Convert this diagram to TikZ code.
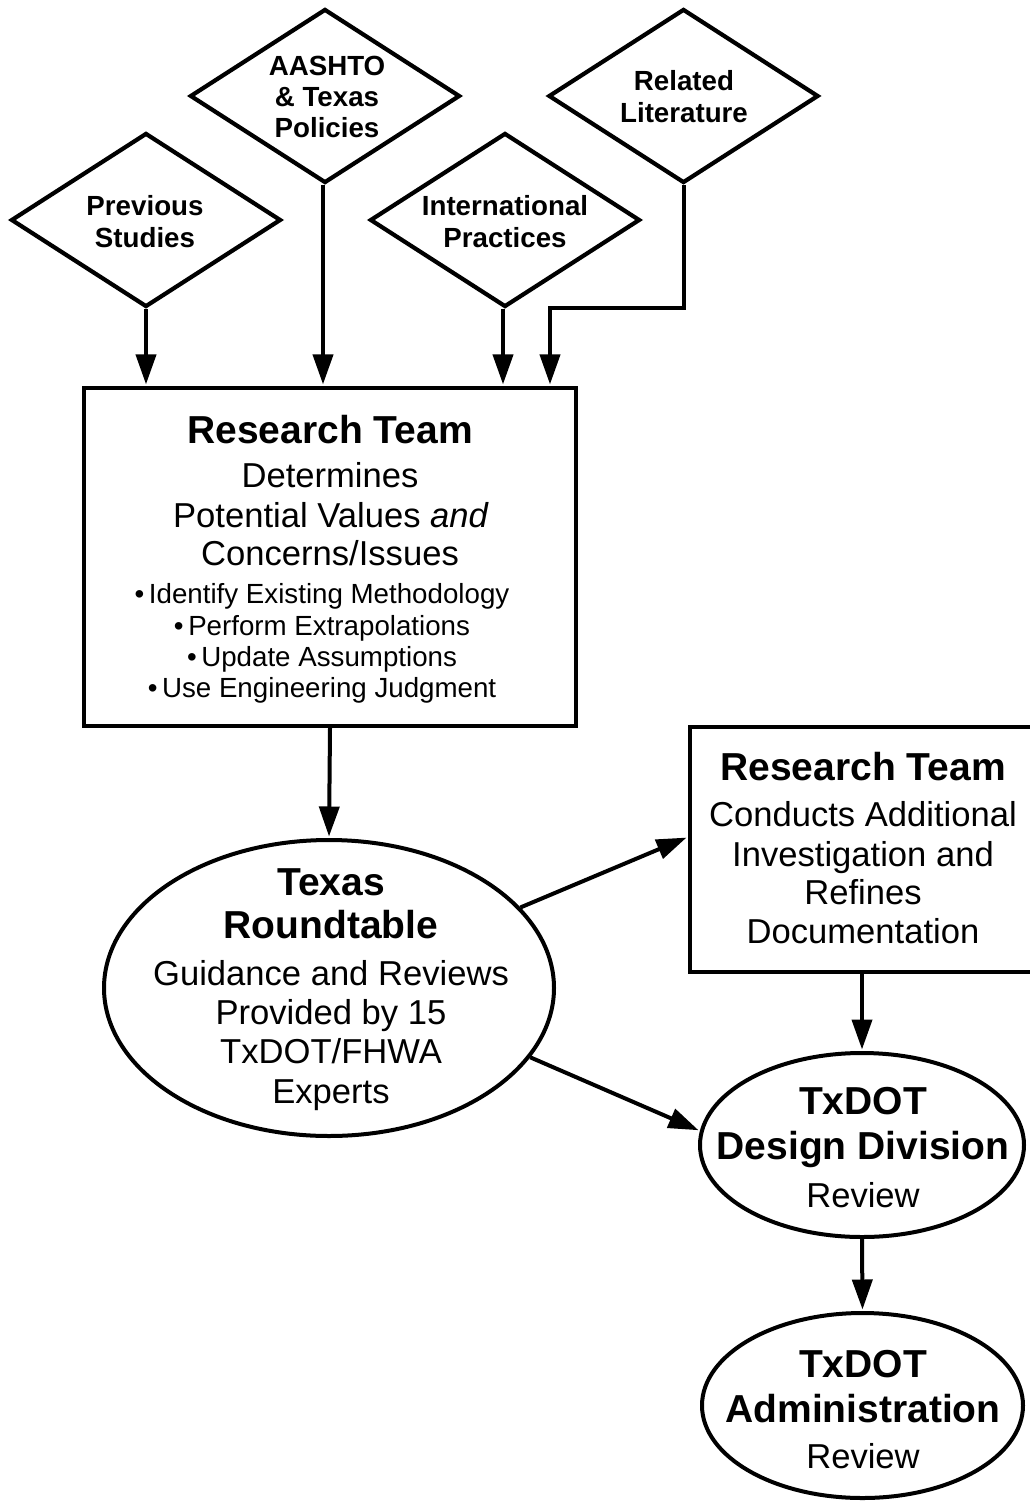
\documentclass[tikz,border=0pt]{standalone}
\usepackage{fontspec}
\setmainfont{Liberation Sans}
\usetikzlibrary{shapes.geometric,arrows.meta,calc}
\newcommand\ftitle{\fontsize{39}{44}\selectfont\bfseries}
\newcommand\fbody{\fontsize{34.6}{39}\selectfont}
\newcommand\fbul{\fontsize{27.7}{31}\selectfont}
\newcommand\fdia{\fontsize{27.7}{32}\selectfont\bfseries}
\begin{document}
\begin{tikzpicture}[x=1pt,y=-1pt,
  dia/.style={draw, shape=diamond, aspect=1.55, minimum width=270pt, minimum height=174pt, inner sep=0pt, line width=4.2pt},
  boxnode/.style={draw, rectangle, inner sep=0pt, line width=4.2pt},
  ellnode/.style={draw, ellipse, inner sep=0pt, line width=4pt},
  lbl/.style={inner sep=0pt, anchor=base},
  arr/.style={line width=4pt, -{Triangle[length=30pt,width=20pt]}, shorten >=1.5pt}]
\useasboundingbox (0,0) rectangle (1029,1501);
\fill[white] (0,0) rectangle (1029,1501);

% diamonds
\node[dia] (prev) at (146,220) {};
\node[dia] (aash) at (325,96) {};
\node[dia] (intl) at (505,220) {};
\node[dia] (rel) at (683.5,96) {};

\node[lbl,font=\fdia] (prevA) at (145,215) {Previous};
\node[lbl,font=\fdia] (prevB) at (145,247) {Studies};
\node[lbl,font=\fdia] (aashA) at (327,76) {AASHTO};
\node[lbl,font=\fdia] (aashB) at (327,107) {\& Texas};
\node[lbl,font=\fdia] (aashC) at (327,138) {Policies};
\node[lbl,font=\fdia] (intlA) at (505,215) {International};
\node[lbl,font=\fdia] (intlB) at (505,247) {Practices};
\node[lbl,font=\fdia] (relA) at (684,91) {Related};
\node[lbl,font=\fdia] (relB) at (684,123) {Literature};

% box 1
\node[boxnode, minimum width=492pt, minimum height=338pt] (box1) at (330,557) {};
\node[lbl,font=\ftitle] (b1t) at (330,443) {Research Team};
\node[lbl,font=\fbody] (b1a) at (330,487) {Determines};
\node[lbl,font=\fbody] (b1b) at (331,527) {Potential Values \textit{and}};
\node[lbl,font=\fbody] (b1c) at (330,565) {Concerns/Issues};
\node[lbl,font=\fbul] (b1d) at (322,603) {•\,Identify Existing Methodology};
\node[lbl,font=\fbul] (b1e) at (322,635) {•\,Perform Extrapolations};
\node[lbl,font=\fbul] (b1f) at (322,666) {•\,Update Assumptions};
\node[lbl,font=\fbul] (b1g) at (322,697) {•\,Use Engineering Judgment};

% box 2
\node[boxnode, minimum width=344pt, minimum height=245pt] (box2) at (862,849.5) {};
\node[lbl,font=\ftitle] (b2t) at (863,780) {Research Team};
\node[lbl,font=\fbody] (b2a) at (863,826) {Conducts Additional};
\node[lbl,font=\fbody] (b2b) at (863,866) {Investigation and};
\node[lbl,font=\fbody] (b2c) at (863,904) {Refines};
\node[lbl,font=\fbody] (b2d) at (863,943) {Documentation};

% ellipses
\node[ellnode, minimum width=450pt, minimum height=296pt] (texas) at (329,988) {};
\node[lbl,font=\ftitle] (txa) at (331,895) {Texas};
\node[lbl,font=\ftitle] (txb) at (331,938) {Roundtable};
\node[lbl,font=\fbody] (txc) at (331,985) {Guidance and Reviews};
\node[lbl,font=\fbody] (txd) at (331,1024) {Provided by 15};
\node[lbl,font=\fbody] (txe) at (331,1063) {TxDOT/FHWA};
\node[lbl,font=\fbody] (txf) at (331,1103) {Experts};

\node[ellnode, minimum width=324pt, minimum height=184pt] (design) at (862,1145) {};
\node[lbl,font=\ftitle] (dsa) at (863,1114) {TxDOT};
\node[lbl,font=\ftitle] (dsb) at (863,1159) {Design Division};
\node[lbl,font=\fbody] (dsc) at (863,1207) {Review};

\node[ellnode, minimum width=321pt, minimum height=185pt] (admin) at (862.5,1405.5) {};
\node[lbl,font=\ftitle] (ada) at (863,1377) {TxDOT};
\node[lbl,font=\ftitle] (adb) at (863,1422) {Administration};
\node[lbl,font=\fbody] (adc) at (863,1468) {Review};

% connectors
\draw[arr] (prev.south) -- (prev.south |- box1.north);
\draw[arr] ([xshift=-2pt]aash.south) -- ([xshift=-2pt]aash.south |- box1.north);
\draw[arr] ([xshift=-2pt]intl.south) -- ([xshift=-2pt]intl.south |- box1.north);
\coordinate (relbend) at (550,308);
\draw[arr, line join=miter] (rel.south) |- (relbend) -- (relbend |- box1.north);
\draw[arr] (box1.south) -- (texas.north);
\draw[arr] (texas) -- ([yshift=12.5pt]box2.west);
\draw[arr] (texas.-19.4) -- (design.175);
\draw[arr] (box2.south) -- (design.north);
\draw[arr] (design.south) -- (admin.north);
\end{tikzpicture}
\end{document}
